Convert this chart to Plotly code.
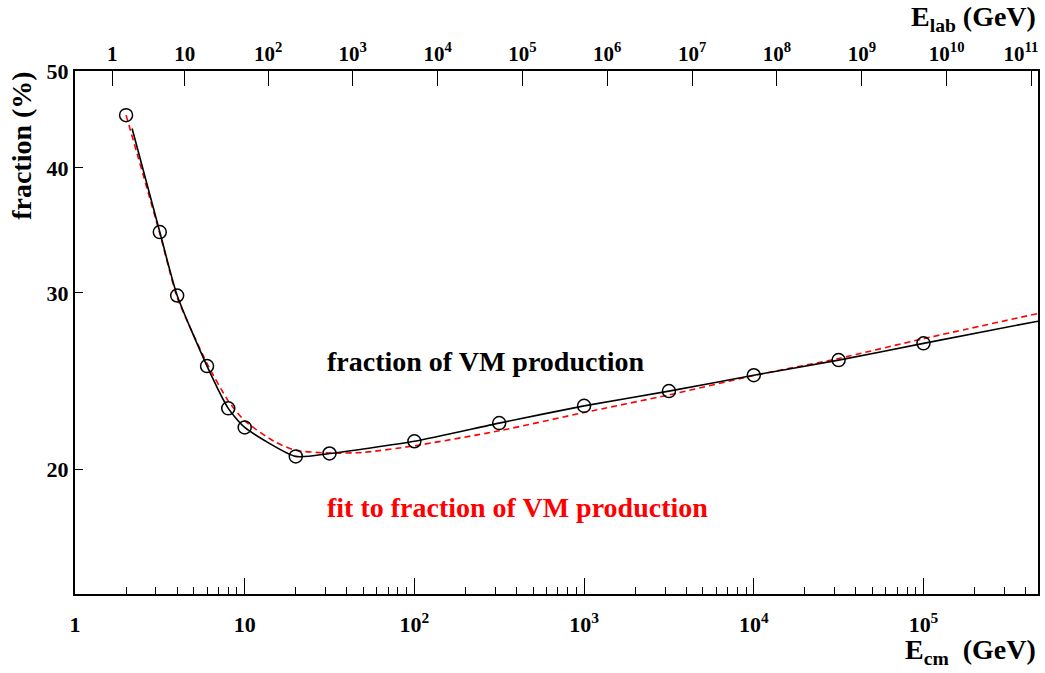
import numpy as np
import plotly.graph_objects as go

# ---------------- data ----------------
ecm_points = [2, 3.16, 4, 6, 8, 10, 20, 31.6, 100, 316, 1000, 3162, 10000, 31620, 100000]
frac_points = [45.17, 34.51, 29.82, 25.35, 23.00, 22.01, 20.59, 20.73, 21.32, 22.23,
               23.13, 23.93, 24.82, 25.70, 26.71]

ecm_line = [2.17, 3.16, 4, 6, 8, 10, 20, 31.6, 100, 316, 1000, 3162, 10000, 31620, 100000, 473000]
frac_line = [43.8, 34.51, 29.82, 25.35, 23.00, 22.01, 20.59, 20.73, 21.32, 22.23,
             23.13, 23.93, 24.82, 25.70, 26.71, 28.11]

ecm_fit = [2, 3.16, 4, 6, 8, 10, 15, 20, 31.6, 50, 100, 316, 1000, 3162, 10000, 31620, 100000, 473000]
frac_fit = [45.17, 34.4, 29.7, 25.5, 23.4, 22.35, 21.3, 20.88, 20.75, 20.78, 21.10, 21.84,
            22.78, 23.72, 24.80, 25.80, 27.00, 28.61]

x_tick_vals = [1, 10, 100, 1000, 10000, 100000]
x_tick_text = ["1", "10", "10<sup>2</sup>", "10<sup>3</sup>", "10<sup>4</sup>", "10<sup>5</sup>"]
y_tick_vals = [20, 30, 40, 50]
y_tick_text = ["20", "30", "40", "50"]
elab_tick_vals = [1, 10, 1e2, 1e3, 1e4, 1e5, 1e6, 1e7, 1e8, 1e9, 1e10, 1e11]
elab_tick_text = (["1", "10"] + ["10<sup>%d</sup>" % k for k in range(2, 11)]
                  + ["10<sup>11</sup>\u00a0\u00a0\u00a0\u00a0"])

X_MIN, X_MAX = 1, 473000
Y_MIN, Y_MAX = 15, 50
M_P = 0.938  # GeV, used to map E_lab onto the E_cm scale


def elab_to_ecm(e):
    return np.sqrt(2 * M_P * e + M_P ** 2)


FONT = "Liberation Serif"
BOLD = dict(family=FONT, weight="bold")

fig = go.Figure()

fig.add_trace(go.Scatter(x=ecm_fit, y=frac_fit, mode="lines",
                         line=dict(color="#ff0000", width=1.6, dash="6px,4px",
                                   shape="spline", smoothing=0.6),
                         showlegend=False, hoverinfo="skip"))
fig.add_trace(go.Scatter(x=ecm_line, y=frac_line, mode="lines",
                         line=dict(color="black", width=1.6, shape="spline", smoothing=0.6),
                         showlegend=False, hoverinfo="skip"))
fig.add_trace(go.Scatter(x=ecm_points, y=frac_points, mode="markers",
                         marker=dict(symbol="circle-open", size=13,
                                     line=dict(color="black", width=1.5), color="black"),
                         showlegend=False))
# invisible trace to attach the top (E_lab) axis
fig.add_trace(go.Scatter(x=ecm_points, y=frac_points, mode="lines", xaxis="x2",
                         line=dict(color="rgba(0,0,0,0)"), showlegend=False, hoverinfo="skip"))

minor_vals = [k * 10 ** d for d in range(0, 6) for k in range(2, 10) if k * 10 ** d < X_MAX]

fig.update_layout(
    width=1045, height=673,
    margin=dict(l=75, r=7, t=71, b=79, autoexpand=False),
    paper_bgcolor="white", plot_bgcolor="white",
    font=dict(family=FONT, color="black"),
    xaxis=dict(type="log", range=[np.log10(X_MIN), np.log10(X_MAX)],
               tickmode="array", tickvals=x_tick_vals, ticktext=x_tick_text,
               ticks="inside", ticklen=16, tickwidth=1.2, tickcolor="black",
               showline=True, linewidth=2, linecolor="black", mirror=False,
               showgrid=False, zeroline=False, ticklabelstandoff=10, automargin=False,
               tickfont=dict(size=22, **BOLD),
               minor=dict(tickmode="array", tickvals=minor_vals, ticks="inside",
                          ticklen=7, tickwidth=1.2, tickcolor="black", showgrid=False)),
    xaxis2=dict(type="log", range=[np.log10(X_MIN), np.log10(X_MAX)], overlaying="x",
                side="top", anchor="y", automargin=False,
                tickmode="array", tickvals=[elab_to_ecm(v) for v in elab_tick_vals],
                ticktext=elab_tick_text, ticklabeloverflow="allow",
                ticks="inside", ticklen=15, tickwidth=1.2, tickcolor="black",
                showline=True, linewidth=2, linecolor="black",
                showgrid=False, zeroline=False,
                tickfont=dict(size=21, **BOLD)),
    yaxis=dict(type="log", range=[np.log10(Y_MIN), np.log10(Y_MAX)],
               tickmode="array", tickvals=y_tick_vals, ticktext=y_tick_text,
               ticks="inside", ticklen=8, tickwidth=1.2, tickcolor="black",
               showline=True, linewidth=2, linecolor="black", mirror=True,
               showgrid=False, zeroline=False, automargin=False,
               tickfont=dict(size=22, **BOLD)),
    annotations=[
        dict(text="fraction of VM production", xref="paper", yref="paper",
             x=0.2596, y=0.4436, xanchor="left", yanchor="middle", showarrow=False,
             font=dict(size=28, color="black", **BOLD)),
        dict(text="fit to fraction of VM production", xref="paper", yref="paper",
             x=0.2596, y=0.1663, xanchor="left", yanchor="middle", showarrow=False,
             font=dict(size=28, color="#ff0000", **BOLD)),
        dict(text="fraction (%)", xref="paper", yref="paper",
             x=-0.055, y=0.857, xanchor="center", yanchor="middle", textangle=-90,
             showarrow=False, font=dict(size=28, color="black", **BOLD)),
        dict(text="E<sub>cm</sub>  (GeV)", xref="paper", yref="paper",
             x=1.0, y=-0.11, xanchor="right", yanchor="middle", showarrow=False,
             font=dict(size=28, color="black", **BOLD)),
        dict(text="E<sub>lab</sub> (GeV)", xref="paper", yref="paper",
             x=1.0, y=1.101, xanchor="right", yanchor="middle", showarrow=False,
             font=dict(size=28, color="black", **BOLD)),
    ],
)

fig.write_html("out.html")
